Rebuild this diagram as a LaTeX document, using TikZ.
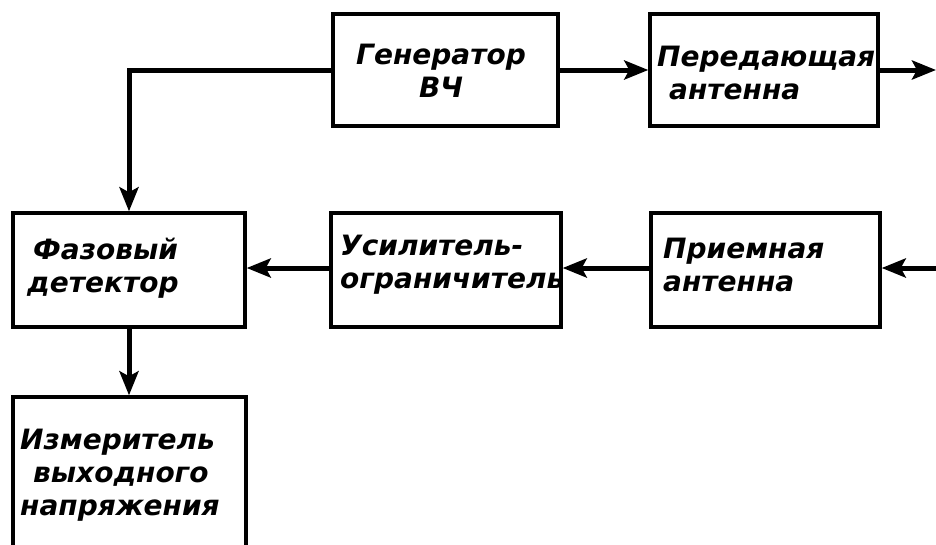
\documentclass[tikz,border=0pt]{standalone}
\usepackage{fontspec}
\setmainfont{DejaVu Sans}
\usetikzlibrary{arrows.meta}
\begin{document}
\begin{tikzpicture}[x=1pt,y=-1pt,
  blk/.style={draw, line width=3.4pt, inner sep=0pt},
  lbl/.style={font=\fontsize{28}{33}\selectfont\bfseries\itshape, inner sep=0pt, align=left, anchor=west},
  link/.style={line width=5pt, -{Stealth[length=24pt,width=19pt,inset=5pt]}}
]
\useasboundingbox (0,0) rectangle (936,544);
\clip (0,0) rectangle (936,544);
\fill[white] (0,0) rectangle (936,544);

% blocks
\node[blk, minimum width=225pt, minimum height=112pt] (gen) at (445.5,70) {};
\node[blk, minimum width=228pt, minimum height=112pt] (ant) at (764,70) {};
\node[blk, minimum width=232pt, minimum height=114pt] (faz) at (129,270) {};
\node[blk, minimum width=230pt, minimum height=114pt] (usil) at (446,270) {};
\node[blk, minimum width=229pt, minimum height=114pt] (prm) at (765.5,270) {};
\node[blk, minimum width=233pt, minimum height=180pt] (izm) at (129.5,487) {};

% labels
\node[lbl, align=center, anchor=center] (gen-t) at (441,71) {Генератор\\ВЧ};
\node[lbl] (ant-t) at (657,73) {Передающая\\\hspace*{12pt}антенна};
\node[lbl] (faz-t) at (27,268) {\hspace*{6pt}Фазовый\\детектор};
\node[lbl] (usil-t) at (340,265) {Усилитель-\\ограничитель};
\node[lbl] (prm-t) at (663,265) {Приемная\\антенна};
\node[lbl] (izm-t) at (20,475) {Измеритель\\\hspace*{13pt}выходного\\напряжения};

% free ends at the right margin
\coordinate (out) at (936,70);
\coordinate (in) at (936,268);

% connectors
\draw[link] (gen.west) -| (faz.north);
\draw[link] (gen.east) -- (ant.west);
\draw[link] (ant.east) -- (out);
\draw[link] (in) -- (in -| prm.east);
\draw[link] (prm.west |- in) -- (usil.east |- in);
\draw[link] (usil.west |- in) -- (faz.east |- in);
\draw[link] (faz.south) -- (faz.south |- izm.north);
\end{tikzpicture}
\end{document}
